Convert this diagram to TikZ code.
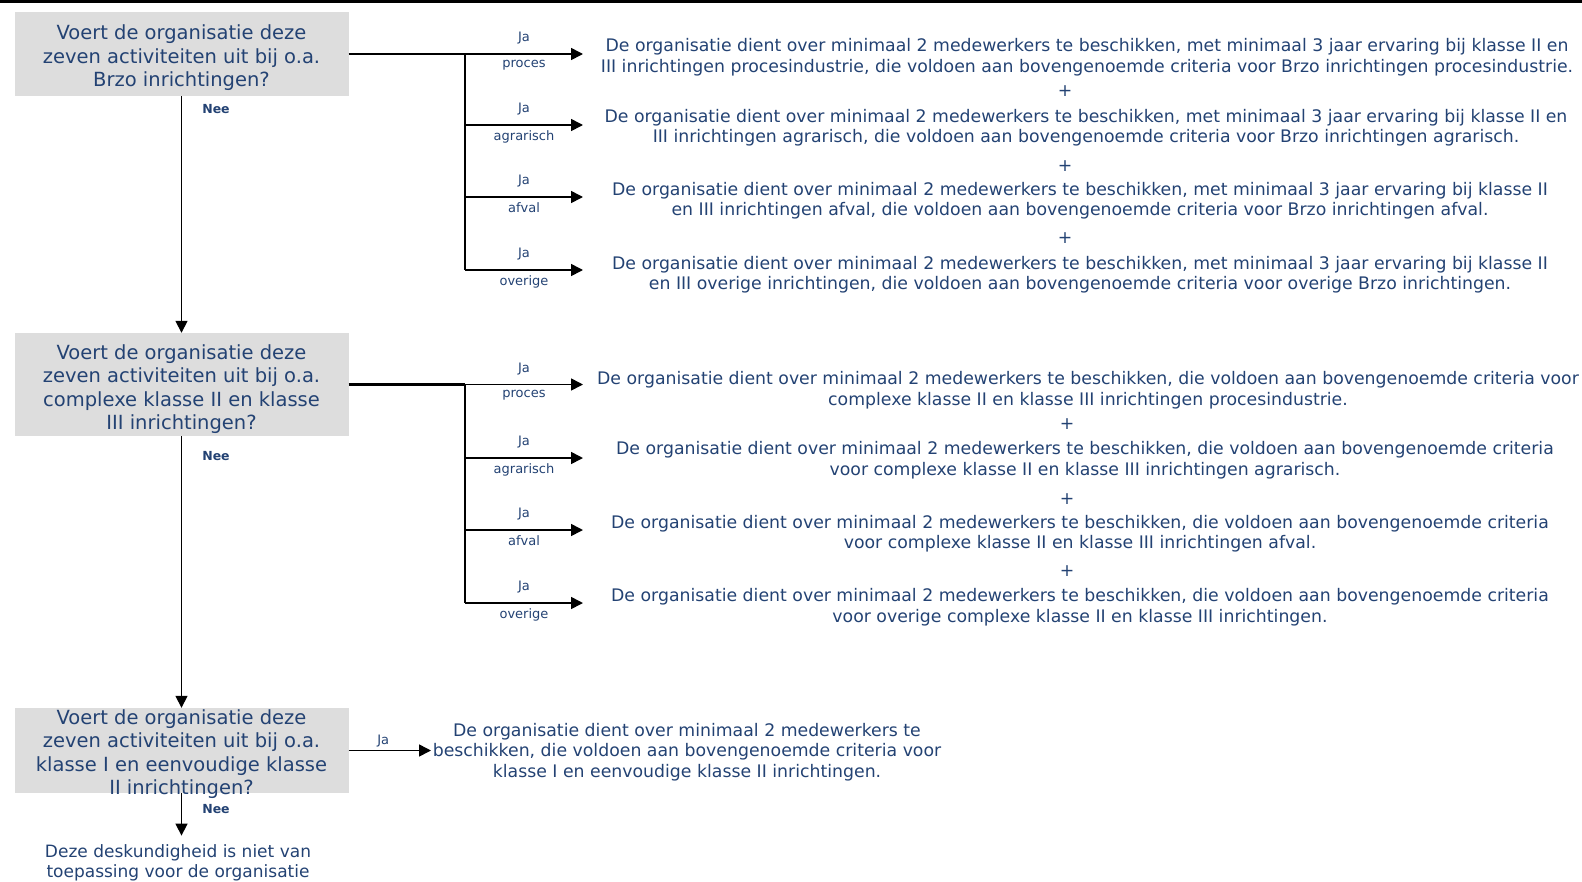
\documentclass[tikz,border=0pt]{standalone}
\usepackage{fontspec}
\setmainfont{DejaVu Sans}
\usetikzlibrary{arrows.meta, positioning}
\definecolor{txtblue}{RGB}{35,66,115}
\definecolor{boxgray}{RGB}{221,221,221}

\begin{document}
\begin{tikzpicture} [x = 1pt, y = -1pt,
    vak/.style   = {fill = boxgray, minimum width = 334pt, inner sep = 0pt},
    vraag/.style = {text = txtblue, align = center, inner sep = 0pt, font = \fontsize{19.5}{23.5}\selectfont},
    antw/.style  = {text = txtblue, align = center, inner sep = 2pt, font = \fontsize{17.3}{20.5}\selectfont},
    tak/.style   = {text = txtblue, inner sep = 2pt, font = \fontsize{13}{13}\selectfont},
    ja/.style    = {tak, above = 7pt},
    soort/.style = {tak, below = 3pt},
    nee/.style   = {text = txtblue, font = \bfseries\fontsize{12.5}{13}\selectfont},
    pijl/.style  = {line width = 1.6pt, -{Triangle[length = 12pt, width = 12pt]}}]
    \useasboundingbox (0,0) rectangle (1582,881);
    \draw [line width = 3pt] (0,1.5) -- (1582,1.5);

    % vragen
    \node (vak1) [vak, minimum height = 84pt] at (181.5,54) {};
    \node (vak2) [vak, minimum height = 103pt] at (181.5,384.5) {};
    \node (vak3) [vak, minimum height = 85pt] at (181.5,750.5) {};
    \node (v1) [vraag] at (181.5,58) {Voert de organisatie deze\\zeven activiteiten uit bij o.a.\\Brzo inrichtingen?};
    \node (v2) [vraag] at (181.5,389) {Voert de organisatie deze\\zeven activiteiten uit bij o.a.\\complexe klasse II en klasse\\III inrichtingen?};
    \node (v3) [vraag] at (181.5,754) {Voert de organisatie deze\\zeven activiteiten uit bij o.a.\\klasse I en eenvoudige klasse\\II inrichtingen?};
    \node (n4) [antw, font = \fontsize{17}{20}\selectfont] at (178,863) {Deze deskundigheid is niet van\\toepassing voor de organisatie};

    \node (nee1) [nee] at (216,109) {Nee};
    \node (nee2) [nee] at (216,456) {Nee};
    \node (nee3) [nee] at (216,809) {Nee};

    % antwoorden Brzo
    \node (r1a) [antw] at (1087,57) {De organisatie dient over minimaal 2 medewerkers te beschikken, met minimaal 3 jaar ervaring bij klasse II en\\III inrichtingen procesindustrie, die voldoen aan bovengenoemde criteria voor Brzo inrichtingen procesindustrie.};
    \node (p1a) [antw] at (1065,91.5) {+};
    \node (r1b) [antw] at (1086,127.5) {De organisatie dient over minimaal 2 medewerkers te beschikken, met minimaal 3 jaar ervaring bij klasse II en\\III inrichtingen agrarisch, die voldoen aan bovengenoemde criteria voor Brzo inrichtingen agrarisch.};
    \node (p1b) [antw] at (1065,166) {+};
    \node (r1c) [antw] at (1080,200.5) {De organisatie dient over minimaal 2 medewerkers te beschikken, met minimaal 3 jaar ervaring bij klasse II\\en III inrichtingen afval, die voldoen aan bovengenoemde criteria voor Brzo inrichtingen afval.};
    \node (p1c) [antw] at (1065,238.5) {+};
    \node (r1d) [antw] at (1080,274.5) {De organisatie dient over minimaal 2 medewerkers te beschikken, met minimaal 3 jaar ervaring bij klasse II\\en III overige inrichtingen, die voldoen aan bovengenoemde criteria voor overige Brzo inrichtingen.};

    % antwoorden complex
    \node (r2a) [antw] at (1088,390) {De organisatie dient over minimaal 2 medewerkers te beschikken, die voldoen aan bovengenoemde criteria voor\\complexe klasse II en klasse III inrichtingen procesindustrie.};
    \node (p2a) [antw] at (1067,424.5) {+};
    \node (r2b) [antw] at (1085,460) {De organisatie dient over minimaal 2 medewerkers te beschikken, die voldoen aan bovengenoemde criteria\\voor complexe klasse II en klasse III inrichtingen agrarisch.};
    \node (p2b) [antw] at (1067,499) {+};
    \node (r2c) [antw] at (1080,533.5) {De organisatie dient over minimaal 2 medewerkers te beschikken, die voldoen aan bovengenoemde criteria\\voor complexe klasse II en klasse III inrichtingen afval.};
    \node (p2c) [antw] at (1067,571.5) {+};
    \node (r2d) [antw] at (1080,607) {De organisatie dient over minimaal 2 medewerkers te beschikken, die voldoen aan bovengenoemde criteria\\voor overige complexe klasse II en klasse III inrichtingen.};

    \node (r3) [antw] at (687,752) {De organisatie dient over minimaal 2 medewerkers te\\beschikken, die voldoen aan bovengenoemde criteria voor\\klasse I en eenvoudige klasse II inrichtingen.};

    % vertakkingen
    \coordinate (k1a) at (465,54);    \coordinate (t1a) at (583,54);
    \coordinate (k1b) at (465,125);   \coordinate (t1b) at (583,125);
    \coordinate (k1c) at (465,197);   \coordinate (t1c) at (583,197);
    \coordinate (k1d) at (465,270);   \coordinate (t1d) at (583,270);
    \coordinate (k2a) at (465,384.5); \coordinate (t2a) at (583,384.5);
    \coordinate (k2b) at (465,458);   \coordinate (t2b) at (583,458);
    \coordinate (k2c) at (465,530);   \coordinate (t2c) at (583,530);
    \coordinate (k2d) at (465,603);   \coordinate (t2d) at (583,603);
    \coordinate (t3) at (431,750.5);

    \draw [line width = 2.2pt] (vak1.east) -- (k1a);
    \draw [line width = 2.6pt] (k1a) -- (k1c);
    \draw [line width = 1.6pt] (k1c) -- (k1d);
    \draw [line width = 2.2pt] (vak2.east) -- (k2a);
    \draw [line width = 1.6pt] (k2a) -- (k2d);

    \path [pijl]
    (k1a) edge node [ja] {Ja} node [soort] {proces} (t1a)
    (k1b) edge node [ja] {Ja} node [soort] {agrarisch} (t1b)
    (k1c) edge node [ja] {Ja} node [soort] {afval} (t1c)
    (k1d) edge node [ja] {Ja} node [soort] {overige} (t1d)
    (k2a) edge node [ja] {Ja} node [soort] {proces} (t2a)
    (k2b) edge node [ja] {Ja} node [soort] {agrarisch} (t2b)
    (k2c) edge node [ja] {Ja} node [soort] {afval} (t2c)
    (k2d) edge node [ja] {Ja} node [soort] {overige} (t2d)
    (vak3.east) edge node [tak, above = 1pt, pos = 0.42] {Ja} (t3)
    (vak1.south) edge (vak2.north)
    (vak2.south) edge (vak3.north)
    (vak3.south) edge [shorten > = 7pt] (vak3.south |- n4.north);

\end{tikzpicture}
\end{document}
